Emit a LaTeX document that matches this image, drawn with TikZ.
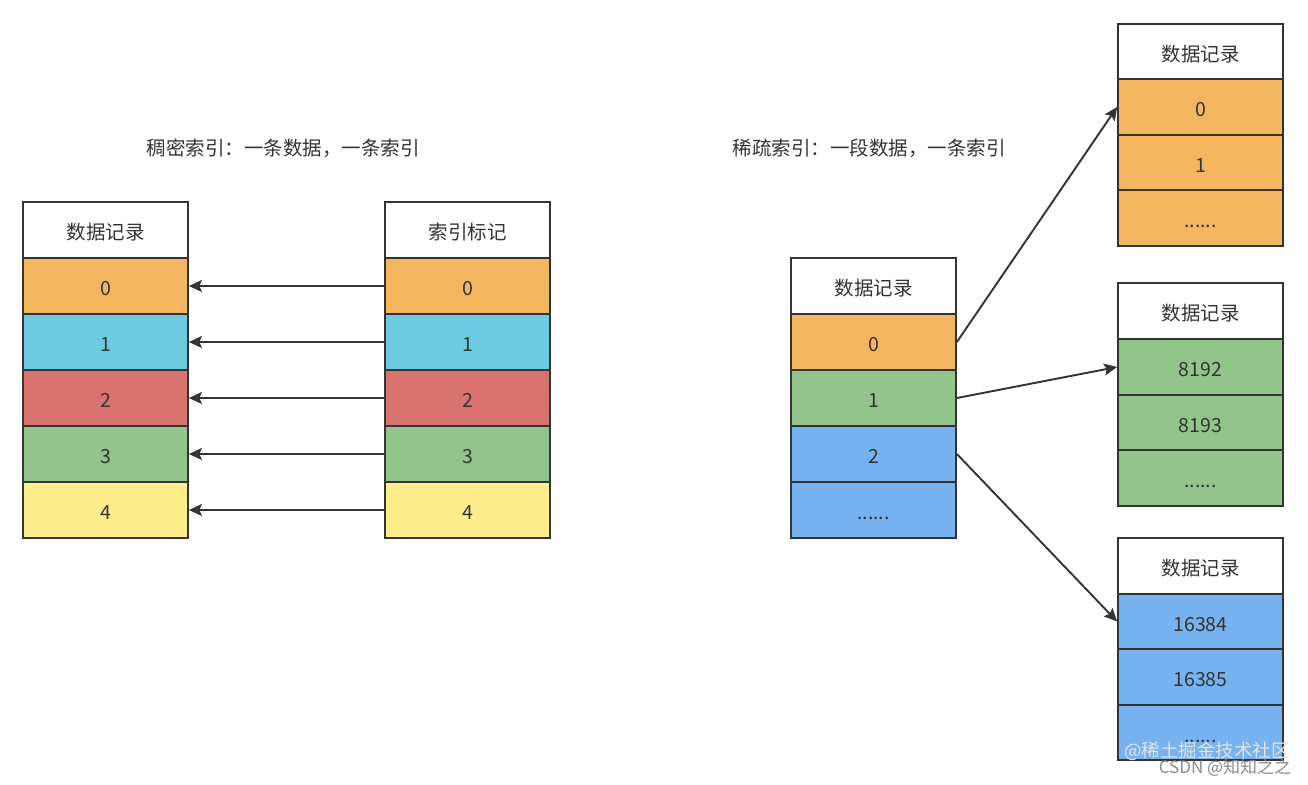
\documentclass[tikz,border=0pt]{standalone}
\usepackage{fontspec}
\newfontfamily\cjk{Noto Sans CJK SC}
\usetikzlibrary{arrows.meta}
\definecolor{lc}{HTML}{333333}
\definecolor{tc}{HTML}{333333}
\definecolor{co}{HTML}{F4B65F}
\definecolor{cc}{HTML}{6CCBE0}
\definecolor{cr}{HTML}{D9736F}
\definecolor{cg}{HTML}{92C48B}
\definecolor{cy}{HTML}{FFEE8C}
\definecolor{cb}{HTML}{76B3F0}
\tikzset{
  cell/.style={draw=lc, line width=1.8pt, minimum width=165pt, minimum height=55.6pt, inner sep=0pt, text height=19pt, text depth=0pt, font=\cjk\fontsize{19.5}{21}\selectfont, text=tc},
  arr/.style={draw=lc, line width=1.9pt, -{Stealth[length=13pt,width=12pt,inset=2.5pt]}},
  ttl/.style={font=\cjk\fontsize{19.5}{21}\selectfont, text=tc, inner sep=0pt},
}
\begin{document}
\begin{tikzpicture}[x=1pt,y=-1pt]
\useasboundingbox[fill=white] (0,0) rectangle (1308,784);

\node[ttl] (t1) at (283,148) {稠密索引：一条数据，一条索引};
\node[ttl] (t2) at (869,148) {稀疏索引：一段数据，一条索引};

% dense: data table
\node[cell, fill=white] (dh) at (105.5,230) {数据记录};
\node[cell, fill=co] (d0) at (105.5,286) {0};
\node[cell, fill=cc] (d1) at (105.5,342) {1};
\node[cell, fill=cr] (d2) at (105.5,398) {2};
\node[cell, fill=cg] (d3) at (105.5,454) {3};
\node[cell, fill=cy] (d4) at (105.5,510) {4};

% dense: index table
\node[cell, fill=white] (ih) at (467.5,230) {索引标记};
\node[cell, fill=co] (i0) at (467.5,286) {0};
\node[cell, fill=cc] (i1) at (467.5,342) {1};
\node[cell, fill=cr] (i2) at (467.5,398) {2};
\node[cell, fill=cg] (i3) at (467.5,454) {3};
\node[cell, fill=cy] (i4) at (467.5,510) {4};

\foreach \k in {0,...,4} {\draw[arr] (i\k.west) -- (d\k.east);}

% sparse: index table
\node[cell, fill=white] (mh) at (873.5,286) {数据记录};
\node[cell, fill=co] (m0) at (873.5,342) {0};
\node[cell, fill=cg] (m1) at (873.5,398) {1};
\node[cell, fill=cb] (m2) at (873.5,454) {2};
\node[cell, fill=cb] (m3) at (873.5,510) {......};

% sparse: top data block
\node[cell, fill=white] (ah) at (1200.5,51.5) {数据记录};
\node[cell, fill=co] (a0) at (1200.5,107) {0};
\node[cell, fill=co] (a1) at (1200.5,162.5) {1};
\node[cell, fill=co] (a2) at (1200.5,218) {......};

% sparse: middle data block
\node[cell, fill=white] (bh) at (1200.5,311) {数据记录};
\node[cell, fill=cg] (b0) at (1200.5,367) {8192};
\node[cell, fill=cg] (b1) at (1200.5,422.5) {8193};
\node[cell, fill=cg] (b2) at (1200.5,478) {......};

% sparse: bottom data block
\node[cell, fill=white] (ch) at (1200.5,566) {数据记录};
\node[cell, fill=cb] (c0) at (1200.5,621.5) {16384};
\node[cell, fill=cb] (c1) at (1200.5,677) {16385};
\node[cell, fill=cb] (c2) at (1200.5,732.5) {......};

\draw[arr] (m0.east) -- (a0.west);
\draw[arr] (m1.east) -- (b0.west);
\draw[arr] (m2.east) -- (c0.west);

% watermarks
\node[font=\cjk\fontsize{18.5}{20}\selectfont, text=white!80!gray, inner sep=0pt] (w1) at (1207,751) {@稀土掘金技术社区};
\node[font=\cjk\fontsize{17}{18}\selectfont, text=gray!90!white, inner sep=0pt] (w2) at (1225,768) {CSDN @知知之之};
\end{tikzpicture}
\end{document}
